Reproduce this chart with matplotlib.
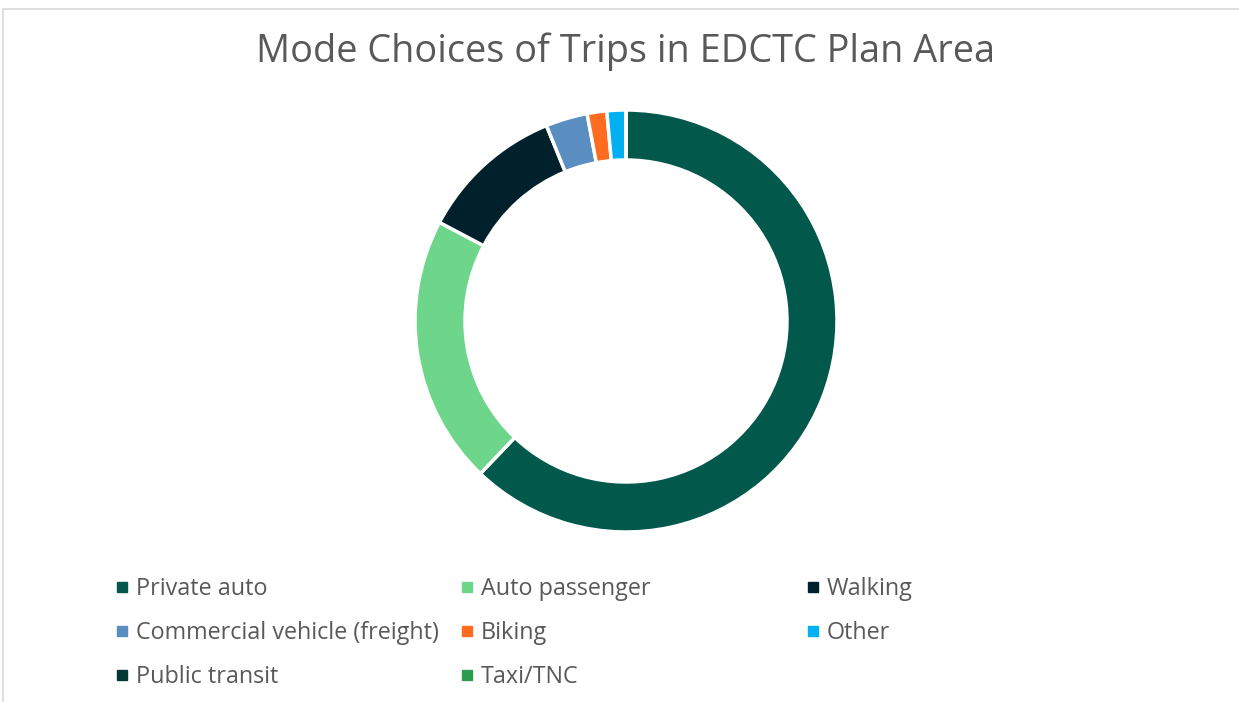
import matplotlib
matplotlib.use('Agg')
import matplotlib.pyplot as plt
from matplotlib.lines import Line2D
from matplotlib.patches import Rectangle

plt.rcParams['font.family'] = ['Open Sans', 'DejaVu Sans']

title = 'Mode Choices of Trips in EDCTC Plan Area'
modes = ['Private auto', 'Auto passenger', 'Walking', 'Commercial vehicle (freight)',
         'Biking', 'Other', 'Public transit', 'Taxi/TNC']
shares = [62.1, 20.6, 11.1, 3.2, 1.5, 1.45, 0.0, 0.0]
colors = ['#02584B', '#6ED68A', '#00212B', '#5A8EC0',
          '#FF6B1F', '#00B0F0', '#033A33', '#2E9A4C']

W, H = 1239, 702
fig = plt.figure(figsize=(W / 100, H / 100), dpi=100)

# light frame around the chart area
fig.patches.append(Rectangle((3 / W, -0.01), 1.0, (H - 9) / H + 0.01, transform=fig.transFigure,
                             fill=False, edgecolor='#D9D9D9', linewidth=1.2))

fig.text(626 / W, 1 - 52 / H, title, ha='center', va='center', fontsize=27.3, color='#595959')

# donut
cx, cy, r = 626, 321, 211
ax = fig.add_axes([(cx - r) / W, (H - cy - r) / H, 2 * r / W, 2 * r / H])
ax.pie(shares, colors=colors, startangle=90, counterclock=False, radius=1.0,
       wedgeprops=dict(width=0.237, edgecolor='white', linewidth=2.5))
ax.set_xlim(-1, 1)
ax.set_ylim(-1, 1)
ax.set_aspect('equal')
ax.axis('off')

# legend: three columns, filled row by row
col_x = [116, 461, 807]
for c in range(3):
    idx = list(range(c, len(modes), 3))
    handles = [Line2D([], [], marker='s', linestyle='none', markersize=6.5,
                      markerfacecolor=colors[i], markeredgecolor=colors[i]) for i in idx]
    fig.legend(handles, [modes[i] for i in idx], loc='upper left',
               bbox_to_anchor=(col_x[c] / W, 1 - 577 / H), frameon=False,
               fontsize=16.8, labelcolor='#595959', handlelength=0.55, handletextpad=0.3,
               labelspacing=0.85, borderpad=0, borderaxespad=0)

fig.savefig('out.png', dpi=100)
